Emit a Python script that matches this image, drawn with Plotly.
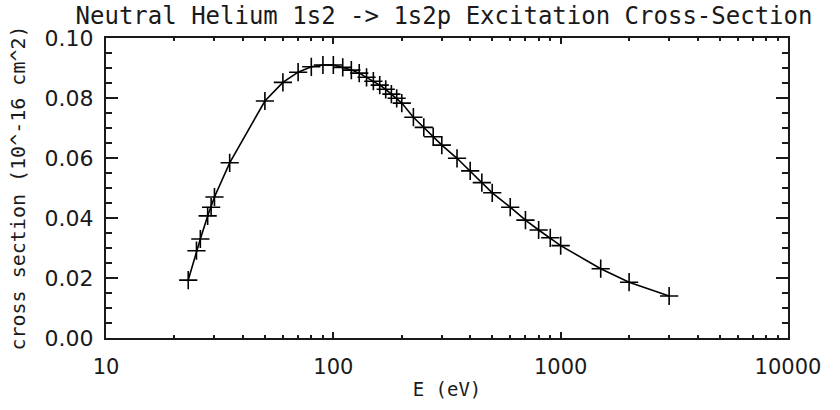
import plotly.graph_objects as go

energy_ev = [23, 25, 26, 28, 29, 30, 35, 50, 60, 70, 80, 90, 100, 110, 120, 130,
             140, 150, 160, 170, 180, 190, 200, 225, 250, 275, 300, 350, 400, 450,
             500, 600, 700, 800, 900, 1000, 1500, 2000, 3000]
cross_section = [0.0193, 0.0291, 0.0330, 0.0407, 0.0436, 0.0470, 0.0584, 0.0790,
                 0.0852, 0.0886, 0.0904, 0.0910, 0.0910, 0.0902, 0.0893, 0.0883,
                 0.0869, 0.0856, 0.0843, 0.0829, 0.0813, 0.0799, 0.0783, 0.0736,
                 0.0702, 0.0671, 0.0643, 0.0599, 0.0557, 0.0518, 0.0484, 0.0436,
                 0.0393, 0.0360, 0.0334, 0.0308, 0.0231, 0.0186, 0.0140]

x_tickvals = [10, 100, 1000, 10000]
x_ticktext = ["10", "100", "1000", "10000"]
y_tickvals = [0.00, 0.02, 0.04, 0.06, 0.08, 0.10]
y_ticktext = ["0.00", "0.02", "0.04", "0.06", "0.08", "0.10"]

title_text = "Neutral Helium 1s2 -> 1s2p Excitation Cross-Section"
x_title = "E (eV)"
y_title = "cross section (10^-16 cm^2)"

TICKFONT = "DejaVu Sans"
LABELFONT = "DejaVu Sans Mono"
INK = "#1a1a1a"

fig = go.Figure()
fig.add_trace(go.Scatter(
    x=energy_ev, y=cross_section, mode="lines+markers",
    line=dict(color="black", width=1.6),
    marker=dict(symbol="cross-thin", size=13, line=dict(color="black", width=1.6)),
    showlegend=False,
))

fig.update_layout(
    width=840, height=410,
    margin=dict(l=106, r=52, t=38, b=72),
    paper_bgcolor="white", plot_bgcolor="white",
    font=dict(family=TICKFONT, color=INK, size=21),
    title=dict(text=title_text, x=444 / 840, xanchor="center", y=0.982, yanchor="top",
               font=dict(family=LABELFONT, size=24, color=INK)),
)

fig.update_xaxes(
    type="log", range=[1, 4],
    tickvals=x_tickvals, ticktext=x_ticktext,
    ticks="inside", ticklen=6, tickwidth=1.5, tickcolor=INK,
    minor=dict(ticks="inside", ticklen=3, tickwidth=1.5, tickcolor=INK, dtick="D1", showgrid=False),
    showline=True, linecolor=INK, linewidth=2, mirror="ticks",
    showgrid=False, zeroline=False,
    ticklabelstandoff=9,
    tickfont=dict(family=TICKFONT, size=21, color=INK),
    title=dict(text=x_title, font=dict(family=LABELFONT, size=19, color=INK), standoff=4),
)

fig.update_yaxes(
    range=[0, 0.1],
    tickvals=y_tickvals, ticktext=y_ticktext,
    ticks="inside", ticklen=12, tickwidth=1.5, tickcolor=INK,
    minor=dict(ticks="inside", ticklen=6, tickwidth=1.5, tickcolor=INK, dtick=0.005, showgrid=False),
    showline=True, linecolor=INK, linewidth=2, mirror="ticks",
    showgrid=False, zeroline=False,
    ticklabelstandoff=6,
    tickfont=dict(family=TICKFONT, size=22, color=INK),
    title=dict(text=y_title, font=dict(family=LABELFONT, size=20, color=INK), standoff=14),
)

fig.write_html("out.html")
